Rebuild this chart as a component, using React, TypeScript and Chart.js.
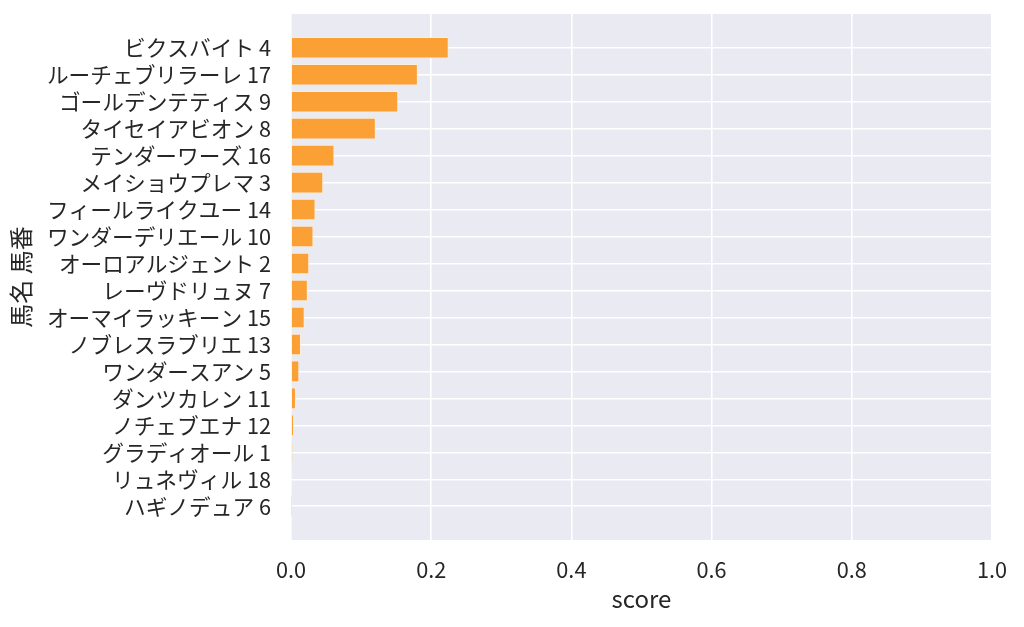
import { Chart, registerables } from "chart.js";
import { useEffect, useRef } from "react";

Chart.register(...registerables);

// horse labels, top to bottom (name + gate number)
const horseLabels = [
	"ビクスバイト 4",
	"ルーチェブリラーレ 17",
	"ゴールデンテティス 9",
	"タイセイアビオン 8",
	"テンダーワーズ 16",
	"メイショウプレマ 3",
	"フィールライクユー 14",
	"ワンダーデリエール 10",
	"オーロアルジェント 2",
	"レーヴドリュヌ 7",
	"オーマイラッキーン 15",
	"ノブレスラブリエ 13",
	"ワンダースアン 5",
	"ダンツカレン 11",
	"ノチェブエナ 12",
	"グラディオール 1",
	"リュネヴィル 18",
	"ハギノデュア 6",
];

const scores = [
	0.225, 0.181, 0.153, 0.121, 0.062, 0.046, 0.035, 0.032, 0.026, 0.024,
	0.0195, 0.0142, 0.0118, 0.0071, 0.0043, 0.0022, 0.001, 0.0003,
];

const xTicks = [0, 0.2, 0.4, 0.6, 0.8, 1.0];

const FONT = "'Noto Sans CJK JP', 'Noto Sans', sans-serif";
const TEXT = "#262626";

const plotBg = {
	id: "plotBg",
	beforeDraw(chart: Chart) {
		const { ctx, chartArea } = chart;
		ctx.save();
		ctx.fillStyle = "#EAEAF2";
		ctx.fillRect(
			chartArea.left,
			chartArea.top,
			chartArea.right - chartArea.left,
			chartArea.bottom - chartArea.top,
		);
		ctx.restore();
	},
};

const App = () => {
	const canvasRef = useRef<HTMLCanvasElement>(null);
	const chartRef = useRef<Chart | null>(null);

	useEffect(() => {
		document.body.style.margin = "0";
		if (!canvasRef.current) return;
		if (chartRef.current) chartRef.current.destroy();

		chartRef.current = new Chart(canvasRef.current, {
			type: "bar",
			data: {
				datasets: [
					{
						label: "score",
						data: scores.map((v, i) => ({ x: v, y: i })),
						backgroundColor: "#FBA035",
						borderColor: "rgba(255, 236, 214, 0.85)",
						borderWidth: 1,
						barPercentage: 0.8,
						categoryPercentage: 1,
					},
				],
			},
			plugins: [plotBg],
			options: {
				indexAxis: "y",
				animation: false,
				responsive: false,
				layout: { padding: { top: 14, right: 30, left: 0, bottom: 0 } },
				plugins: {
					legend: { display: false },
					tooltip: { enabled: false },
				},
				scales: {
					x: {
						type: "linear",
						min: 0,
						max: 1,
						bounds: "data",
						border: { display: false },
						grid: { color: "#FFFFFF", lineWidth: 1.6, drawTicks: false },
						afterBuildTicks: (axis: any) => {
							axis.ticks = xTicks.map((v) => ({ value: v }));
						},
						afterFit: (axis: any) => {
							axis.height = 87;
						},
						ticks: {
							padding: 17,
							autoSkip: false,
							maxRotation: 0,
							color: TEXT,
							font: { family: FONT, size: 21.7 },
							callback: (v: any) => Number(v).toFixed(1),
						},
						title: {
							display: true,
							text: "score",
							color: TEXT,
							font: { family: FONT, size: 24 },
							padding: { top: 0, bottom: 14 },
						},
					},
					y: {
						type: "linear",
						reverse: true,
						offset: false,
						bounds: "data",
						min: -1.25,
						max: horseLabels.length - 1 + 1.25,
						border: { display: false },
						grid: {
							color: "#FFFFFF",
							lineWidth: 1.6,
							drawTicks: false,
							offset: false,
						},
						afterBuildTicks: (axis: any) => {
							axis.ticks = horseLabels.map((_, i) => ({ value: i }));
						},
						afterDataLimits: (axis: any) => {
							axis.min = -1.25;
							axis.max = horseLabels.length - 1 + 1.25;
						},
						afterFit: (axis: any) => {
							axis.width = 291;
							axis.paddingTop = 0;
							axis.paddingBottom = 0;
						},
						ticks: {
							padding: 20,
							autoSkip: false,
							color: TEXT,
							font: { family: FONT, size: 21.7 },
							callback: (v: any) => horseLabels[v] ?? "",
						},
						title: {
							display: true,
							text: "馬名 馬番",
							color: TEXT,
							font: { family: FONT, size: 24 },
							padding: { top: 6, bottom: 0 },
						},
					},
				},
			},
		});

		return () => {
			chartRef.current?.destroy();
		};
	}, []);

	return (
		<div style={{ width: 1024, height: 627 }}>
			<canvas ref={canvasRef} width={1024} height={627} />
		</div>
	);
};

export default App;
